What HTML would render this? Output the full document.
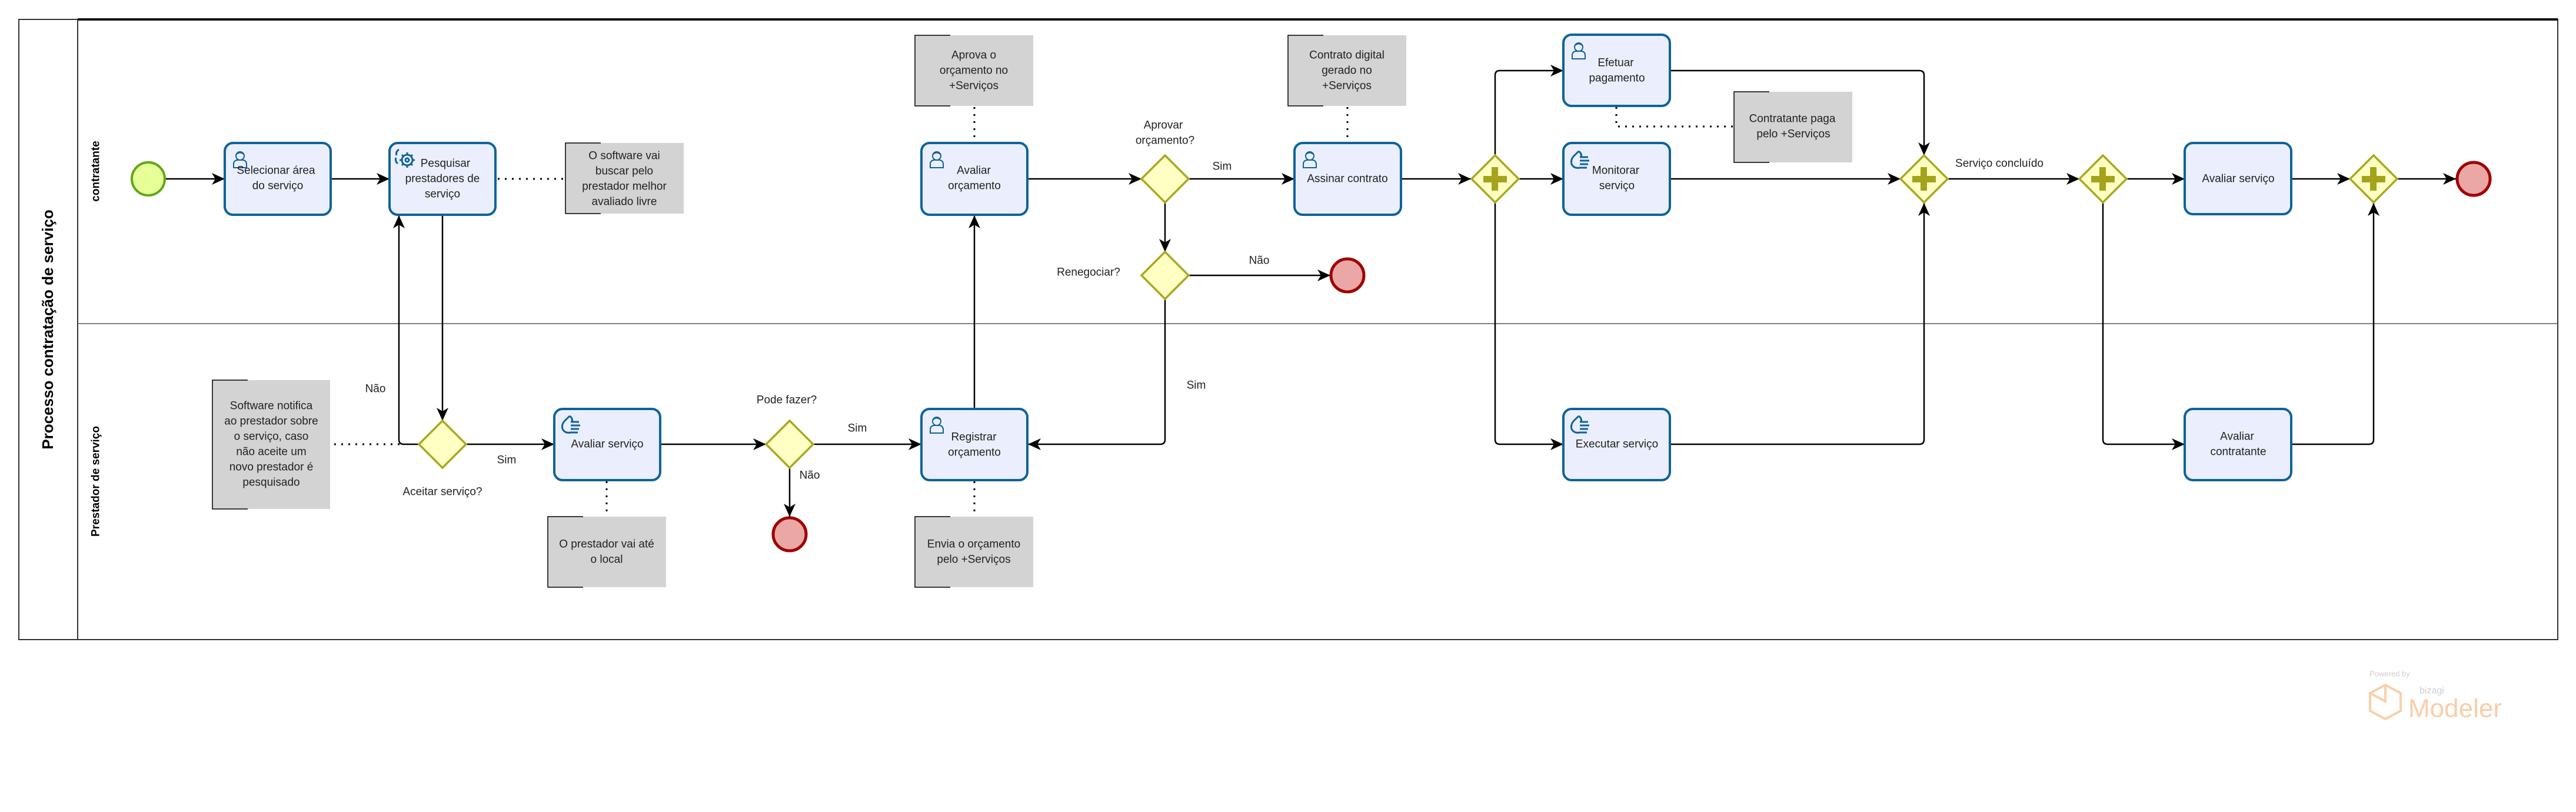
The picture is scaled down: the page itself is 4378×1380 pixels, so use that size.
<!DOCTYPE html>
<html><head><meta charset="utf-8"><style>
html,body{margin:0;padding:0;background:#fff;}
svg{display:block;}
text{font-family:"Liberation Sans","DejaVu Sans",sans-serif;fill:#222;}
</style></head><body>
<svg width="4378" height="1380" viewBox="0 0 4378 1380" xmlns="http://www.w3.org/2000/svg">
<defs>
<marker id="a" markerWidth="24" markerHeight="20" refX="22" refY="10" orient="auto" markerUnits="userSpaceOnUse">
<path d="M0,0 L22,10 L0,20 L6,10 Z" fill="#000"/>
</marker>
<g id="user" fill="none" stroke="#0e6399" stroke-width="2">
<circle cx="14" cy="10" r="7"/><path d="M3,30 L3,24 Q3,18 9,17 L19,17 Q25,18 25,24 L25,30 Z"/><path d="M7,8 Q14,1 21,8"/>
</g>
<g id="hand" fill="none" stroke="#0e6399" stroke-width="3">
<path d="M16,2 L8,10 Q2,16 4,24 Q8,32 18,30 L30,30 M18,12 L32,12 M18,18 L34,18 M18,24 L32,24 M20,12 Q22,6 16,2"/>
</g>
<g id="gear" fill="none" stroke="#0e6399" stroke-width="3">
<circle cx="22" cy="22" r="9"/><circle cx="22" cy="22" r="3"/>
<path d="M22,9 L22,13 M22,31 L22,35 M9,22 L13,22 M31,22 L35,22 M13,13 L16,16 M28,28 L31,31 M31,13 L28,16 M13,31 L16,28"/>
<path d="M8,4 Q2,8 4,14 M3,18 Q1,24 6,28"/>
</g>
</defs>

<!-- pool -->
<rect x="32" y="33" width="4315" height="1054" fill="none" stroke="#333" stroke-width="2"/>
<line x1="132" y1="33" x2="132" y2="1087" stroke="#333" stroke-width="2"/>
<line x1="132" y1="33" x2="4347" y2="33" stroke="#111" stroke-width="4"/>
<line x1="132" y1="550" x2="4347" y2="550" stroke="#555" stroke-width="1.5"/>
<text x="81" y="560" font-size="26" font-weight="bold" text-anchor="middle" dominant-baseline="central" transform="rotate(-90 81 560)" style="fill:#000">Processo contratação de serviço</text>
<text x="163" y="291" font-size="19" font-weight="bold" text-anchor="middle" dominant-baseline="central" transform="rotate(-90 163 291)" style="fill:#000">contratante</text>
<text x="163" y="818" font-size="19" font-weight="bold" text-anchor="middle" dominant-baseline="central" transform="rotate(-90 163 818)" style="fill:#000">Prestador de serviço</text>

<!-- connectors -->
<g fill="none" stroke="#000" stroke-width="2.5">
<line x1="281" y1="304" x2="382" y2="304" marker-end="url(#a)"/>
<line x1="562" y1="304" x2="662" y2="304" marker-end="url(#a)"/>
<line x1="752" y1="365" x2="752" y2="715" marker-end="url(#a)"/>
<path d="M712,755 L686,755 Q678,755 678,747 L678,366" marker-end="url(#a)"/>
<line x1="792" y1="755" x2="942" y2="755" marker-end="url(#a)"/>
<line x1="1122" y1="755" x2="1302" y2="755" marker-end="url(#a)"/>
<line x1="1342" y1="795" x2="1342" y2="878" marker-end="url(#a)"/>
<line x1="1382" y1="755" x2="1566" y2="755" marker-end="url(#a)"/>
<line x1="1656" y1="695" x2="1656" y2="366" marker-end="url(#a)"/>
<line x1="1746" y1="304" x2="1940" y2="304" marker-end="url(#a)"/>
<line x1="2020" y1="304" x2="2200" y2="304" marker-end="url(#a)"/>
<line x1="1980" y1="344" x2="1980" y2="428" marker-end="url(#a)"/>
<line x1="2020" y1="468" x2="2261" y2="468" marker-end="url(#a)"/>
<path d="M1980,508 L1980,747 Q1980,755 1972,755 L1747,755" marker-end="url(#a)"/>
<line x1="2381" y1="304" x2="2500" y2="304" marker-end="url(#a)"/>
<path d="M2541,264 L2541,128 Q2541,120 2549,120 L2657,120" marker-end="url(#a)"/>
<line x1="2581" y1="304" x2="2657" y2="304" marker-end="url(#a)"/>
<path d="M2541,344 L2541,747 Q2541,755 2549,755 L2657,755" marker-end="url(#a)"/>
<path d="M2838,120 L3262,120 Q3270,120 3270,128 L3270,264" marker-end="url(#a)"/>
<line x1="2838" y1="304" x2="3230" y2="304" marker-end="url(#a)"/>
<path d="M2838,755 L3262,755 Q3270,755 3270,747 L3270,345" marker-end="url(#a)"/>
<line x1="3310" y1="304" x2="3534" y2="304" marker-end="url(#a)"/>
<line x1="3614" y1="304" x2="3713" y2="304" marker-end="url(#a)"/>
<path d="M3574,344 L3574,747 Q3574,755 3582,755 L3713,755" marker-end="url(#a)"/>
<line x1="3894" y1="304" x2="3994" y2="304" marker-end="url(#a)"/>
<path d="M3894,755 L4026,755 Q4034,755 4034,747 L4034,345" marker-end="url(#a)"/>
<line x1="4074" y1="304" x2="4174" y2="304" marker-end="url(#a)"/>
</g>
<!-- dotted associations -->
<g fill="none" stroke="#000" stroke-width="3" stroke-dasharray="3,9">
<line x1="846" y1="304" x2="961" y2="304"/>
<line x1="568" y1="755" x2="679" y2="755"/>
<line x1="1031" y1="818" x2="1031" y2="878"/>
<line x1="1656" y1="182" x2="1656" y2="243"/>
<line x1="2290" y1="182" x2="2290" y2="243"/>
<line x1="1656" y1="818" x2="1656" y2="878"/>
<path d="M2747,182 L2747,215 L2947,215"/>
</g>

<!-- annotations -->
<g>
<rect x="961" y="243" width="201" height="120" fill="#d3d3d3"/><path d="M1021,243 L961,243 L961,363 L1021,363" fill="none" stroke="#000" stroke-width="1.5"/>
<rect x="361" y="646" width="200" height="219" fill="#d3d3d3"/><path d="M421,646 L361,646 L361,865 L421,865" fill="none" stroke="#000" stroke-width="1.5"/>
<rect x="931" y="878" width="201" height="120" fill="#d3d3d3"/><path d="M991,878 L931,878 L931,998 L991,998" fill="none" stroke="#000" stroke-width="1.5"/>
<rect x="1555" y="60" width="201" height="120" fill="#d3d3d3"/><path d="M1615,60 L1555,60 L1555,180 L1615,180" fill="none" stroke="#000" stroke-width="1.5"/>
<rect x="2189" y="60" width="201" height="120" fill="#d3d3d3"/><path d="M2249,60 L2189,60 L2189,180 L2249,180" fill="none" stroke="#000" stroke-width="1.5"/>
<rect x="1555" y="878" width="201" height="120" fill="#d3d3d3"/><path d="M1615,878 L1555,878 L1555,998 L1615,998" fill="none" stroke="#000" stroke-width="1.5"/>
<rect x="2947" y="156" width="201" height="120" fill="#d3d3d3"/><path d="M3007,156 L2947,156 L2947,276 L3007,276" fill="none" stroke="#000" stroke-width="1.5"/>
</g>
<g font-size="19" text-anchor="middle" dominant-baseline="central">
<text x="1061" y="265">O software vai</text><text x="1061" y="291">buscar pelo</text><text x="1061" y="317">prestador melhor</text><text x="1061" y="343">avaliado livre</text>
<text x="461" y="690">Software notifica</text><text x="461" y="716">ao prestador sobre</text><text x="461" y="742">o serviço, caso</text><text x="461" y="768">não aceite  um</text><text x="461" y="794">novo prestador é</text><text x="461" y="820">pesquisado</text>
<text x="1031" y="925">O prestador vai até</text><text x="1031" y="951">o local</text>
<text x="1655" y="94">Aprova o</text><text x="1655" y="120">orçamento no</text><text x="1655" y="146">+Serviços</text>
<text x="2289" y="94">Contrato digital</text><text x="2289" y="120">gerado no</text><text x="2289" y="146">+Serviços</text>
<text x="1655" y="925">Envia o orçamento</text><text x="1655" y="951">pelo +Serviços</text>
<text x="3046" y="202">Contratante paga</text><text x="3048" y="228">pelo +Serviços</text>
</g>

<!-- tasks -->
<g fill="#ebeffd" stroke="#0e6399" stroke-width="4">
<rect x="382" y="243" width="180" height="122" rx="14"/>
<rect x="662" y="243" width="180" height="122" rx="14"/>
<rect x="942" y="695" width="180" height="121" rx="14"/>
<rect x="1566" y="243" width="180" height="122" rx="14"/>
<rect x="1566" y="695" width="180" height="121" rx="14"/>
<rect x="2200" y="243" width="181" height="122" rx="14"/>
<rect x="2657" y="59" width="181" height="121" rx="14"/>
<rect x="2657" y="243" width="181" height="122" rx="14"/>
<rect x="2657" y="695" width="181" height="121" rx="14"/>
<rect x="3713" y="243" width="181" height="121" rx="14"/>
<rect x="3713" y="695" width="181" height="121" rx="14"/>
</g>
<use href="#user" x="394" y="255"/>
<use href="#gear" x="670" y="250"/>
<use href="#hand" x="952" y="705"/>
<use href="#user" x="1578" y="255"/>
<use href="#user" x="1578" y="706"/>
<use href="#user" x="2212" y="255"/>
<use href="#user" x="2669" y="70"/>
<use href="#hand" x="2667" y="255"/>
<use href="#hand" x="2667" y="705"/>
<g font-size="19" text-anchor="middle" dominant-baseline="central">
<text x="469" y="290">Selecionar área</text><text x="472" y="316">do serviço</text>
<text x="757" y="278">Pesquisar</text><text x="752" y="304">prestadores de</text><text x="752" y="330">serviço</text>
<text x="1032" y="755">Avaliar serviço</text>
<text x="1655" y="290">Avaliar</text><text x="1656" y="316">orçamento</text>
<text x="1655" y="743">Registrar</text><text x="1656" y="769">orçamento</text>
<text x="2290" y="304">Assinar contrato</text>
<text x="2746" y="107">Efetuar</text><text x="2748" y="133">pagamento</text>
<text x="2746" y="290">Monitorar</text><text x="2748" y="316">serviço</text>
<text x="2748" y="755">Executar serviço</text>
<text x="3804" y="304">Avaliar serviço</text>
<text x="3802" y="742">Avaliar</text><text x="3804" y="768">contratante</text>
</g>

<!-- gateways -->
<g fill="#ffffc4" stroke="#a8a820" stroke-width="3.5">
<path d="M752,715 L792,755 L752,795 L712,755 Z"/>
<path d="M1342,715 L1382,755 L1342,795 L1302,755 Z"/>
<path d="M1980,264 L2020,304 L1980,344 L1940,304 Z"/>
<path d="M1980,428 L2020,468 L1980,508 L1940,468 Z"/>
<path d="M2541,264 L2581,304 L2541,344 L2501,304 Z"/>
<path d="M3270,264 L3310,304 L3270,344 L3230,304 Z"/>
<path d="M3574,264 L3614,304 L3574,344 L3534,304 Z"/>
<path d="M4034,264 L4074,304 L4034,344 L3994,304 Z"/>
</g>
<g fill="#a3a31c">
<rect x="2521" y="299" width="40" height="11"/><rect x="2535" y="284" width="11" height="40"/>
<rect x="3250" y="299" width="40" height="11"/><rect x="3264" y="284" width="11" height="40"/>
<rect x="3554" y="299" width="40" height="11"/><rect x="3568" y="284" width="11" height="40"/>
<rect x="4014" y="299" width="40" height="11"/><rect x="4028" y="284" width="11" height="40"/>
</g>

<!-- events -->
<circle cx="252" cy="304" r="28" fill="#e6ff97" stroke="#62a716" stroke-width="4"/>
<g fill="#eba6a6" stroke="#a00000" stroke-width="5">
<circle cx="1342" cy="908" r="28"/>
<circle cx="2290" cy="468" r="28"/>
<circle cx="4204" cy="304" r="28"/>
</g>

<!-- labels -->
<g font-size="19" text-anchor="middle" dominant-baseline="central">
<text x="638" y="661">Não</text>
<text x="861" y="782">Sim</text>
<text x="752" y="836">Aceitar serviço?</text>
<text x="1337" y="680">Pode fazer?</text>
<text x="1376" y="808">Não</text>
<text x="1457" y="728">Sim</text>
<text x="1977" y="213">Aprovar</text><text x="1980" y="239">orçamento?</text>
<text x="2077" y="283">Sim</text>
<text x="1850" y="463">Renegociar?</text>
<text x="2140" y="443">Não</text>
<text x="2033" y="655">Sim</text>
<text x="3398" y="278">Serviço concluído</text>
</g>

<!-- bizagi logo -->
<g opacity="0.9">
<text x="4027" y="1145" font-size="13" style="fill:#c8c8c8" dominant-baseline="central">Powered by</text>
<path d="M4054,1164 L4080,1178 L4080,1208 L4054,1222 L4028,1208 L4028,1178 Z M4054,1164 L4054,1192 L4028,1178" fill="none" stroke="#f9cba0" stroke-width="4"/>
<text x="4112" y="1174" font-size="16" style="fill:#c8c8c8" dominant-baseline="central">bizagi</text>
<text x="4093" y="1204" font-size="44" style="fill:#f9c9a0" dominant-baseline="central">Modeler</text>
</g>
</svg>
</body></html>
